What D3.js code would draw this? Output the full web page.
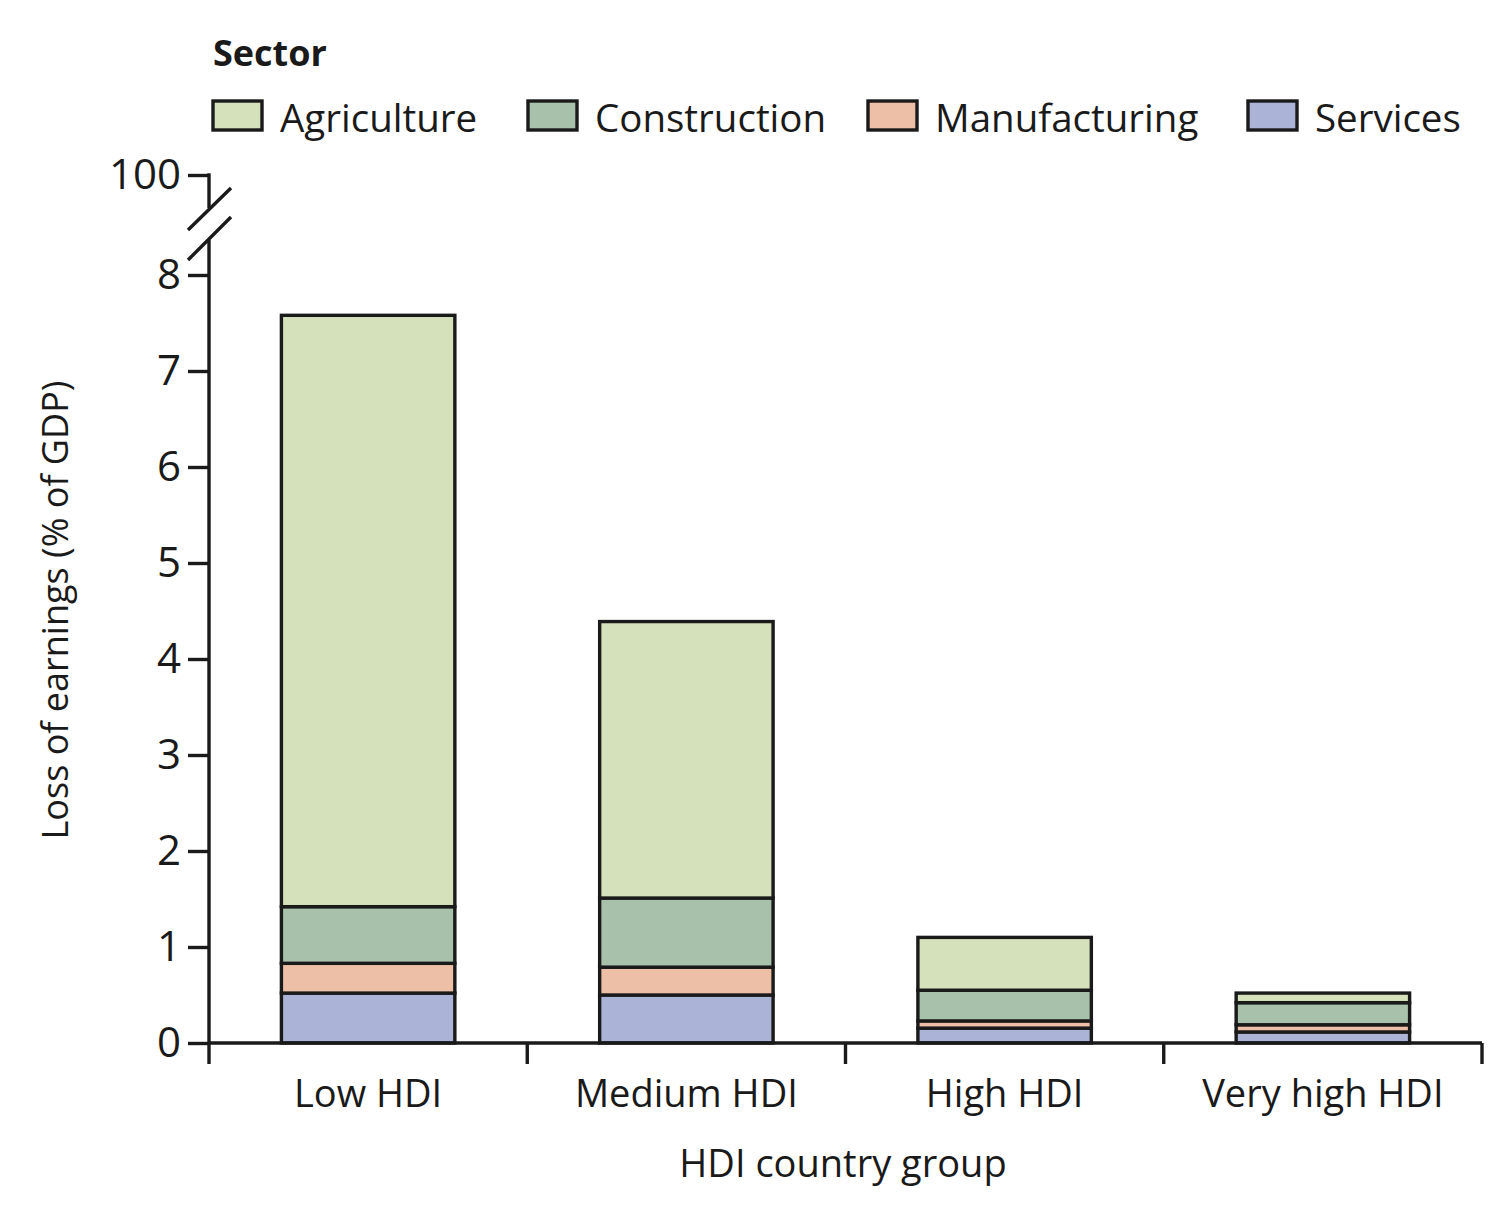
<!DOCTYPE html>
<html><head><meta charset="utf-8">
<script src="https://cdn.jsdelivr.net/npm/d3@7"></script>
<style>body{margin:0;background:#fff}text{font-family:"Open Sans",sans-serif;fill:#1a1a1a}</style>
</head><body>
<script>
const categories = ["Low HDI","Medium HDI","High HDI","Very high HDI"];
const sectors = ["Agriculture","Construction","Manufacturing","Services"];
const services = [0.52,0.50,0.155,0.115];
const manufacturing = [0.31,0.29,0.075,0.075];
const construction = [0.59,0.72,0.32,0.23];
const agriculture = [6.16,2.88,0.55,0.10];
const yTicks = [0,1,2,3,4,5,6,7,8];
const breakTick = [100];
const colors = {Agriculture:"#d5e1bb",Construction:"#a7c1aa",Manufacturing:"#ecbfa6",Services:"#abb3d6"};

const W=1506,H=1216;
const svg=d3.select("body").append("svg").attr("width",W).attr("height",H);
const ink="#1a1a1a";
const sw=3.4;
const x=d3.scaleBand().domain(categories).range([209,1482]).padding(0);
const y=d3.scaleLinear().domain([0,8]).range([1043,275]);
const yTop=d3.scaleLinear().domain([90,100]).range([271,175]);

const rows=categories.map((c,i)=>({cat:c,Services:services[i],Manufacturing:manufacturing[i],Construction:construction[i],Agriculture:agriculture[i]}));
const stack=d3.stack().keys(["Services","Manufacturing","Construction","Agriculture"])(rows);
const bw=x.bandwidth()*0.545;
stack.forEach(layer=>{
  svg.append("g").selectAll("rect").data(layer).join("rect")
    .attr("x",d=>x(d.data.cat)+x.bandwidth()/2-bw/2)
    .attr("width",bw)
    .attr("y",d=>y(d[1]))
    .attr("height",d=>y(d[0])-y(d[1]))
    .attr("fill",colors[layer.key]).attr("stroke",ink).attr("stroke-width",sw);
});

// y axis main
const ya=svg.append("g").attr("transform","translate(209,0)").call(d3.axisLeft(y).tickValues(yTicks).tickSize(21).tickPadding(7));
ya.select(".domain").remove();
ya.selectAll(".tick line").attr("stroke",ink).attr("stroke-width",sw);
ya.selectAll(".tick text").attr("font-size",42).style("font-family","'Open Sans',sans-serif").attr("fill",ink);
svg.append("line").attr("x1",209).attr("x2",209).attr("y1",y(0)).attr("y2",240).attr("stroke",ink).attr("stroke-width",sw);
// top segment
const yb=svg.append("g").attr("transform","translate(209,0)").call(d3.axisLeft(yTop).tickValues(breakTick).tickSize(21).tickPadding(7));
yb.select(".domain").remove();
yb.selectAll(".tick line").attr("stroke",ink).attr("stroke-width",sw);
yb.selectAll(".tick text").attr("font-size",42).style("font-family","'Open Sans',sans-serif").attr("fill",ink);
svg.append("line").attr("x1",209).attr("x2",209).attr("y1",yTop(100)-1.7).attr("y2",208).attr("stroke",ink).attr("stroke-width",sw);
// break slashes
[[188,230,231,188],[188,260,231,217]].forEach(s=>svg.append("line").attr("x1",s[0]).attr("y1",s[1]).attr("x2",s[2]).attr("y2",s[3]).attr("stroke",ink).attr("stroke-width",sw));

// x axis
svg.append("line").attr("x1",209).attr("x2",1482).attr("y1",1043).attr("y2",1043).attr("stroke",ink).attr("stroke-width",sw);
const bounds=categories.map(c=>x(c)).concat([x.range()[1]]);
svg.append("g").selectAll("line").data(bounds).join("line")
  .attr("x1",d=>d).attr("x2",d=>d).attr("y1",1043).attr("y2",1064).attr("stroke",ink).attr("stroke-width",sw);
svg.append("g").selectAll("text").data(categories).join("text")
  .attr("x",d=>x(d)+x.bandwidth()/2).attr("y",1107).attr("text-anchor","middle").attr("font-size",38).text(d=>d);

svg.append("text").attr("x",843).attr("y",1177).attr("text-anchor","middle").attr("font-size",38).text("HDI country group");
svg.append("text").attr("transform","translate(68,610) rotate(-90)").attr("text-anchor","middle").attr("font-size",36).text("Loss of earnings (% of GDP)");

// legend
svg.append("text").attr("x",213).attr("y",66).attr("font-size",36).attr("font-weight","bold").text("Sector");
const lx=[213,528,868,1248];
const lg=svg.append("g").selectAll("g").data(sectors).join("g").attr("transform",(d,i)=>`translate(${lx[i]},101)`);
lg.append("rect").attr("width",49).attr("height",29).attr("fill",d=>colors[d]).attr("stroke",ink).attr("stroke-width",sw);
lg.append("text").attr("x",67).attr("y",31).attr("font-size",38.5).text(d=>d);
</script>
</body></html>
